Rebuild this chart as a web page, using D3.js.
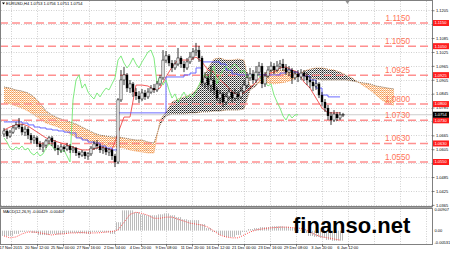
<!DOCTYPE html>
<html><head><meta charset="utf-8">
<script src="https://cdn.jsdelivr.net/npm/d3@7"></script>
<style>body{margin:0;background:#fff}svg{display:block}text{font-family:"Liberation Sans",Arial,sans-serif}</style>
</head><body>
<svg id="c" width="450" height="254"></svg>
<script>
// ---------------- DATA ----------------
const title = "EURUSD,H4  1.0753 1.0756 1.0751 1.0754";
const macdTitle = "MACD(12,26,9) -0.00429 -0.00407";
const timeLabels = ["17 Nov 2015","20 Nov 12:00","25 Nov 00:00","27 Nov 16:00","2 Dec 04:00","4 Dec 20:00","9 Dec 08:00","11 Dec 20:00","16 Dec 12:00","21 Dec 00:00","23 Dec 16:00","29 Dec 08:00","3 Jan 20:00","6 Jan 12:00"];
const timeLabelBars = [2.3,11,19.6,28.2,36.9,45.5,54.1,62.8,71.4,80,88.7,97.3,105.9,114.6];
const futureGridBars = [123.2,131.9,140.5];
const priceTicks = [1.1205,1.1145,1.1085,1.1025,1.0965,1.0905,1.0845,1.0785,1.0725,1.0665,1.0605,1.0545,1.0485,1.0425,1.0365];
const levels = [1.1150,1.1050,1.0925,1.0800,1.0730,1.0630,1.0550];
const macdTicks = [0.00907,0,-0.00531];
const macdTickLabels = ["0.00907","0.00","-0.00531"];

const open = [1.0671,1.0684,1.0662,1.0679,1.0697,1.0710,1.0701,1.0679,1.0692,1.0666,
1.0645,1.0654,1.0628,1.0615,1.0623,1.0641,1.0654,1.0636,1.0610,1.0602,
1.0615,1.0606,1.0619,1.0602,1.0610,1.0589,1.0580,1.0593,1.0576,1.0585,
1.0610,1.0628,1.0619,1.0602,1.0610,1.0593,1.0602,1.0576,1.0550,1.0818,
1.0904,1.0926,1.0869,1.0887,1.0852,1.0835,1.0822,1.0848,1.0831,1.0852,
1.0869,1.0861,1.0887,1.0913,1.0990,1.1008,1.0977,1.0956,1.0973,1.0999,
1.0973,1.0956,1.0982,1.1003,1.1025,1.1033,1.0999,1.0891,1.0913,1.0882,
1.0904,1.0861,1.0826,1.0844,1.0809,1.0831,1.0852,1.0826,1.0844,1.0831,
1.0856,1.0882,1.0913,1.0930,1.0904,1.0938,1.0964,1.0887,1.0921,1.0947,
1.0964,1.0947,1.0964,1.0973,1.0956,1.0938,1.0947,1.0913,1.0930,1.0917,
1.0934,1.0921,1.0904,1.0895,1.0878,1.0887,1.0839,1.0809,1.0783,1.0749,
1.0731,1.0757,1.0740,1.0753];
const high = [1.0697,1.0692,1.0688,1.0710,1.0723,1.0740,1.0714,1.0705,1.0701,1.0675,
1.0666,1.0662,1.0641,1.0636,1.0649,1.0662,1.0662,1.0645,1.0623,1.0628,
1.0623,1.0632,1.0628,1.0619,1.0615,1.0597,1.0602,1.0597,1.0593,1.0619,
1.0641,1.0645,1.0628,1.0619,1.0615,1.0610,1.0606,1.0585,1.0826,1.0947,
1.0960,1.0934,1.0904,1.0895,1.0869,1.0856,1.0865,1.0861,1.0869,1.0882,
1.0887,1.0900,1.0926,1.1033,1.1029,1.1016,1.0990,1.0990,1.1042,1.1008,
1.0986,1.0999,1.1025,1.1042,1.1064,1.1051,1.1008,1.0938,1.0930,1.0964,
1.0921,1.0874,1.0861,1.0852,1.0848,1.0869,1.0861,1.0865,1.0856,1.0874,
1.0904,1.0938,1.0956,1.0947,1.0964,1.0982,1.0977,1.0938,1.0964,1.0982,
1.0977,1.0986,1.0990,1.0995,1.0973,1.0964,1.0956,1.0943,1.0947,1.0951,
1.0947,1.0934,1.0921,1.0908,1.0904,1.0895,1.0852,1.0822,1.0796,1.0766,
1.0774,1.0766,1.0766,1.0762];
const low = [1.0658,1.0649,1.0654,1.0671,1.0688,1.0692,1.0666,1.0662,1.0649,1.0632,
1.0628,1.0615,1.0602,1.0593,1.0610,1.0628,1.0619,1.0597,1.0580,1.0589,
1.0593,1.0597,1.0589,1.0589,1.0576,1.0567,1.0572,1.0563,1.0559,1.0576,
1.0602,1.0606,1.0589,1.0585,1.0580,1.0576,1.0559,1.0528,1.0541,1.0809,
1.0882,1.0852,1.0848,1.0831,1.0818,1.0805,1.0813,1.0818,1.0822,1.0844,
1.0848,1.0852,1.0878,1.0904,1.0977,1.0964,1.0938,1.0947,1.0964,1.0956,
1.0938,1.0947,1.0973,1.0990,1.1008,1.0982,1.0878,1.0869,1.0861,1.0852,
1.0839,1.0813,1.0800,1.0787,1.0796,1.0818,1.0809,1.0813,1.0818,1.0822,
1.0844,1.0869,1.0900,1.0887,1.0891,1.0926,1.0869,1.0874,1.0913,1.0938,
1.0930,1.0938,1.0951,1.0943,1.0926,1.0921,1.0887,1.0904,1.0895,1.0904,
1.0900,1.0882,1.0869,1.0856,1.0861,1.0826,1.0792,1.0766,1.0731,1.0710,
1.0723,1.0727,1.0731,1.0744];
const close = [1.0684,1.0662,1.0679,1.0697,1.0710,1.0701,1.0679,1.0692,1.0666,1.0645,
1.0654,1.0628,1.0615,1.0623,1.0641,1.0654,1.0636,1.0610,1.0602,1.0615,
1.0606,1.0619,1.0602,1.0610,1.0589,1.0580,1.0593,1.0576,1.0585,1.0610,
1.0628,1.0619,1.0602,1.0610,1.0593,1.0602,1.0576,1.0550,1.0818,1.0904,
1.0926,1.0869,1.0887,1.0852,1.0835,1.0822,1.0848,1.0831,1.0852,1.0869,
1.0861,1.0887,1.0913,1.0990,1.1008,1.0977,1.0956,1.0973,1.0999,1.0973,
1.0956,1.0982,1.1003,1.1025,1.1033,1.0999,1.0891,1.0913,1.0882,1.0904,
1.0861,1.0826,1.0844,1.0809,1.0831,1.0852,1.0826,1.0844,1.0831,1.0856,
1.0882,1.0913,1.0930,1.0904,1.0938,1.0964,1.0887,1.0921,1.0947,1.0964,
1.0947,1.0964,1.0973,1.0956,1.0938,1.0947,1.0913,1.0930,1.0917,1.0934,
1.0921,1.0904,1.0895,1.0878,1.0887,1.0839,1.0809,1.0783,1.0749,1.0731,
1.0757,1.0740,1.0753,1.0754];

// Ichimoku lines, one value every 2 bars
const tenkan = [1.0688,1.0701,1.0710,1.0714,1.0705,1.0688,1.0671,1.0654,1.0645,1.0636,
1.0628,1.0619,1.0610,1.0602,1.0602,1.0606,1.0615,1.0610,1.0602,1.0675,
1.0744,1.0744,1.0882,1.0882,1.0878,1.0861,1.0869,1.0917,1.0960,1.0990,
1.0990,1.0990,1.1003,1.0982,1.0947,1.0938,1.0904,1.0882,1.0852,1.0839,
1.0848,1.0869,1.0895,1.0926,1.0930,1.0938,1.0956,1.0960,1.0947,1.0938,
1.0895,1.0869,1.0826,1.0783,1.0762,1.0762,1.0762];
const kijun = [1.0723,1.0723,1.0723,1.0718,1.0710,1.0701,1.0697,1.0692,1.0688,1.0684,
1.0679,1.0675,1.0654,1.0645,1.0636,1.0632,1.0619,1.0610,1.0602,1.0762,
1.0762,1.0762,1.0762,1.0762,1.0762,1.0762,1.0762,1.0917,1.0917,1.0917,
1.0926,1.0934,1.0956,1.0982,1.0982,1.0982,1.0973,1.0947,1.0930,1.0926,
1.0926,1.0926,1.0926,1.0926,1.0926,1.0926,1.0934,1.0947,1.0938,1.0926,
1.0921,1.0904,1.0869,1.0839,1.0831,1.0831,1.0831];
const chikouShift = 15;
const spanA = [1.0805,1.0800,1.0792,1.0783,1.0770,1.0753,1.0736,1.0718,1.0710,1.0701,
1.0688,1.0671,1.0658,1.0649,1.0641,1.0632,1.0623,1.0619,1.0615,1.0615,
1.0610,1.0602,1.0597,1.0593,1.0589,1.0589,1.0731,1.0766,1.0809,1.0822,
1.0831,1.0839,1.0861,1.0900,1.0956,1.0995,1.0999,1.0990,1.0990,1.0995,
1.0990,1.0878,1.0887,1.0895,1.0891,1.0887,1.0891,1.0895,1.0904,1.0921,
1.0943,1.0951,1.0956,1.0956,1.0951,1.0947,1.0938,1.0926,1.0913,1.0895,
1.0878,1.0861,1.0839,1.0818,1.0800,1.0796];
const spanB = [1.0874,1.0869,1.0861,1.0856,1.0848,1.0831,1.0805,1.0770,1.0753,1.0740,
1.0731,1.0723,1.0714,1.0701,1.0688,1.0675,1.0666,1.0662,1.0658,1.0658,
1.0654,1.0649,1.0645,1.0645,1.0636,1.0632,1.0710,1.0749,1.0757,1.0757,
1.0757,1.0762,1.0762,1.0766,1.0766,1.0770,1.0770,1.0774,1.0774,1.0774,
1.0779,1.0861,1.0878,1.0921,1.0943,1.0947,1.0947,1.0947,1.0943,1.0934,
1.0921,1.0913,1.0908,1.0904,1.0904,1.0904,1.0904,1.0904,1.0900,1.0895,
1.0891,1.0887,1.0878,1.0874,1.0869,1.0865];

// MACD, one value every 2 bars
const macdMain = [-0.0023,-0.0023,-0.0014,-0.0006,-0.0004,-0.0010,-0.0019,-0.0019,-0.0014,-0.0017,
-0.0014,-0.0010,-0.0010,-0.0012,-0.0014,-0.0006,-0.0006,-0.0008,-0.0014,0.0036,
0.0087,0.0087,0.0079,0.0070,0.0066,0.0066,0.0070,0.0074,0.0066,0.0058,
0.0049,0.0045,0.0045,0.0028,0.0011,-0.0006,-0.0019,-0.0027,-0.0027,-0.0019,
-0.0006,0.0007,0.0011,0.0015,0.0015,0.0019,0.0019,0.0017,0.0011,0.0003,
-0.0010,-0.0023,-0.0027,-0.0031,-0.0040,-0.0044,-0.00429];
const macdSignal = [-0.0023,-0.0031,-0.0027,-0.0014,-0.0006,-0.0006,-0.0010,-0.0014,-0.0019,-0.0014,
-0.0014,-0.0010,-0.0010,-0.0008,-0.0010,-0.0010,-0.0009,-0.0006,-0.0004,0.0003,
0.0036,0.0070,0.0079,0.0074,0.0066,0.0053,0.0053,0.0058,0.0058,0.0049,
0.0041,0.0032,0.0028,0.0024,0.0015,-0.0002,-0.0019,-0.0027,-0.0031,-0.0031,
-0.0019,-0.0006,0.0003,0.0007,0.0011,0.0013,0.0015,0.0015,0.0013,0.0011,
0.0007,-0.0006,-0.0019,-0.0027,-0.0031,-0.0036,-0.00407];

// ---------------- CHART ----------------
const svg = d3.select("#c");
const R = 432.5, MT = 0.5, MB = 206.5, PT = 208.5, PB = 244.5;
const x = d3.scaleLinear().domain([0,132]).range([4,400]);
const y = d3.scaleLinear().domain([1.0550,1.1150]).range([162,23]);
const yM = d3.scaleLinear().domain([-0.00531,0.00907]).range([243,209.5]);
const f4 = d3.format(".4f");
const sb = k => 2*k;

const defs = svg.append("defs");
function dots(id,pts){
  const p = defs.append("pattern").attr("id",id).attr("width",2).attr("height",2).attr("patternUnits","userSpaceOnUse");
  pts.forEach(([px,py,c])=>p.append("rect").attr("x",px).attr("y",py).attr("width",1).attr("height",1).attr("fill",c).attr("shape-rendering","crispEdges"));
}
dots("pOrange",[[0,0,"#f39a50"],[1,1,"#f7b880"],[1,0,"#fde0c8"]]);
dots("pBlack",[[0,0,"#222"],[1,1,"#777"],[1,0,"#ddd"]]);
const hp = defs.append("pattern").attr("id","pHist").attr("width",2).attr("height",2).attr("patternUnits","userSpaceOnUse");
hp.append("rect").attr("width",1).attr("height",2).attr("fill","#bcbcbc").attr("shape-rendering","crispEdges");
defs.append("clipPath").attr("id","cMain").append("rect").attr("x",1).attr("y",1).attr("width",R-1.5).attr("height",MB-1.5);
defs.append("clipPath").attr("id","cMacd").append("rect").attr("x",1).attr("y",PT+0.5).attr("width",R-1.5).attr("height",PB-PT-1);
const clipAbove = d3.area().x((d,k)=>x(sb(k))).y0(0).y1(d=>y(d));
const clipBelow = d3.area().x((d,k)=>x(sb(k))).y0(MB).y1(d=>y(d));
defs.append("clipPath").attr("id","cAbove").append("path").attr("d",clipAbove(spanB));
defs.append("clipPath").attr("id","cBelow").append("path").attr("d",clipBelow(spanB));

svg.append("rect").attr("width",450).attr("height",254).attr("fill","#fff");

// grid
const gridBars = timeLabelBars.concat(futureGridBars);
const grid = svg.append("g").attr("stroke","#c4c4c4").attr("stroke-dasharray","1,1.5").attr("stroke-width",0.8);
grid.selectAll("line.h").data(priceTicks).join("line").attr("x1",1).attr("x2",R).attr("y1",d=>Math.round(y(d))+0.5).attr("y2",d=>Math.round(y(d))+0.5);
grid.selectAll("line.v").data(gridBars).join("line").attr("x1",d=>Math.round(x(d))+0.5).attr("x2",d=>Math.round(x(d))+0.5).attr("y1",1).attr("y2",MB);
grid.selectAll("line.vm").data(gridBars).join("line").attr("x1",d=>Math.round(x(d))+0.5).attr("x2",d=>Math.round(x(d))+0.5).attr("y1",PT).attr("y2",PB);

const g = svg.append("g").attr("clip-path","url(#cMain)");

// cloud
const cloudArea = d3.area().x((d,k)=>x(sb(k))).y0((d,k)=>y(spanB[k])).y1(d=>y(d));
g.append("path").attr("d",cloudArea(spanA)).attr("fill","url(#pBlack)").attr("clip-path","url(#cAbove)");
g.append("path").attr("d",cloudArea(spanA)).attr("fill","url(#pOrange)").attr("clip-path","url(#cBelow)");
const sLine = d3.line().x((d,k)=>x(sb(k))).y(d=>y(d));
g.append("path").attr("d",sLine(spanA)).attr("fill","none").attr("stroke","#f0a060").attr("stroke-width",0.9).attr("stroke-dasharray","1,1");
g.append("path").attr("d",sLine(spanB)).attr("fill","none").attr("stroke","#8c6a48").attr("stroke-width",0.9).attr("stroke-dasharray","1,1");

// bid line
g.append("line").attr("x1",1).attr("x2",R).attr("y1",y(close[close.length-1])).attr("y2",y(close[close.length-1])).attr("stroke","#c0c0c0").attr("stroke-width",0.8);

// levels
g.selectAll("line.lv").data(levels).join("line").attr("x1",0).attr("x2",R).attr("y1",d=>y(d)).attr("y2",d=>y(d))
 .attr("stroke","#ff9090").attr("stroke-width",1.5).attr("stroke-dasharray","8,4");

// ichimoku lines
g.append("path").attr("d",sLine(tenkan)).attr("fill","none").attr("stroke","#f04848").attr("stroke-width",0.9);
g.append("path").attr("d",d3.line().x((d,k)=>x(sb(k))).y(d=>y(d)).curve(d3.curveStepAfter)(kijun)).attr("fill","none").attr("stroke","#5a5aff").attr("stroke-width",0.9);
const chikou = close.slice(chikouShift);
g.append("path").attr("d",d3.line().x((d,i)=>x(i)).y(d=>y(d))(chikou)).attr("fill","none").attr("stroke","#72e872").attr("stroke-width",0.9);

// candles
const cg = g.append("g");
close.forEach((c,i)=>{
  cg.append("line").attr("x1",x(i)).attr("x2",x(i)).attr("y1",y(high[i])).attr("y2",y(low[i])).attr("stroke","#000").attr("stroke-width",0.8);
  const top = y(Math.max(open[i],c)), bot = y(Math.min(open[i],c));
  const bull = c >= open[i];
  cg.append("rect").attr("x",x(i)-1.1).attr("width",2.2).attr("y",top).attr("height",Math.max(0.8,bot-top))
    .attr("fill",bull?"#fff":"#000").attr("stroke","#000").attr("stroke-width",bull?0.5:0.1);
});

// level labels
svg.selectAll("text.lvl").data(levels).join("text").attr("x",410).attr("y",d=>y(d)-2.2).attr("text-anchor","end")
  .attr("font-size",8.2).attr("fill","#ff7458").text(d=>f4(d));

// MACD panel
const mg = svg.append("g").attr("clip-path","url(#cMacd)");
mg.selectAll("rect.h").data(macdMain).join("rect").attr("x",(d,k)=>x(sb(k))-3).attr("width",6)
  .attr("y",d=>Math.min(yM(0),yM(d))).attr("height",d=>Math.abs(yM(d)-yM(0))).attr("fill","url(#pHist)");
mg.append("path").attr("d",d3.line().x((d,k)=>x(sb(k))).y(d=>yM(d))(macdSignal)).attr("fill","none")
  .attr("stroke","#ff3c3c").attr("stroke-width",0.9).attr("stroke-dasharray","1,1.2");

// borders
svg.append("rect").attr("x",0.5).attr("y",MT).attr("width",R-0.5).attr("height",MB-MT).attr("fill","none").attr("stroke","#808080");
svg.append("rect").attr("x",0.5).attr("y",PT).attr("width",R-0.5).attr("height",PB-PT).attr("fill","none").attr("stroke","#808080");
svg.append("line").attr("x1",0).attr("x2",R).attr("y1",207.5).attr("y2",207.5).attr("stroke","#a0a0a0");

// right price axis
const ax = svg.append("g").attr("transform",`translate(${R},0)`)
  .call(d3.axisRight(y).tickValues(priceTicks).tickSize(2).tickPadding(1.5).tickFormat(f4));
ax.select(".domain").remove();
ax.selectAll("text").attr("font-size",4).attr("fill","#000");
ax.selectAll("line").attr("stroke","#000").attr("stroke-width",0.5);

// level boxes on axis
const lb = svg.append("g");
levels.forEach(v=>{
  lb.append("rect").attr("x",R+0.5).attr("y",y(v)-3).attr("width",16).attr("height",6).attr("fill","#ff1e1e");
  lb.append("text").attr("x",R+2).attr("y",y(v)+1.4).attr("font-size",4).attr("fill","#fff").text(f4(v));
});
const last = close[close.length-1];
lb.append("rect").attr("x",R+0.5).attr("y",y(last)-3).attr("width",16).attr("height",6).attr("fill","#000");
lb.append("text").attr("x",R+2).attr("y",y(last)+1.4).attr("font-size",4).attr("fill","#fff").text(f4(last));

// MACD axis
svg.selectAll("text.mt").data(macdTicks).join("text").attr("x",R+2).attr("y",d=>yM(d)+1.4).attr("font-size",4).attr("fill","#000")
  .text((d,i)=>macdTickLabels[i]);

// time axis
svg.selectAll("text.tl").data(timeLabels).join("text").attr("x",(d,i)=>x(timeLabelBars[i])).attr("y",249).attr("text-anchor","middle")
  .attr("font-size",4).attr("fill","#000").text(d=>d);
svg.selectAll("line.tt").data(timeLabelBars).join("line").attr("x1",d=>Math.round(x(d))+0.5).attr("x2",d=>Math.round(x(d))+0.5)
  .attr("y1",PB).attr("y2",PB+2).attr("stroke","#000").attr("stroke-width",0.5);

// titles
svg.append("path").attr("d","M2,2.5 L5,2.5 L3.5,4.5 Z").attr("fill","#000");
svg.append("text").attr("x",6).attr("y",4.6).attr("font-size",4).attr("fill","#000").text(title);
svg.append("text").attr("x",3).attr("y",213).attr("font-size",4).attr("fill","#000").text(macdTitle);
svg.append("path").attr("d",`M${x(114.5)-2},1 L${x(114.5)+2},1 L${x(114.5)},4 Z`).attr("fill","#909090");

// watermark
svg.append("text").attr("x",293).attr("y",233).attr("font-family","DejaVu Sans").attr("font-weight","bold").attr("font-size",22)
  .attr("fill","#000").text("finanso.net");
</script>
</body></html>
